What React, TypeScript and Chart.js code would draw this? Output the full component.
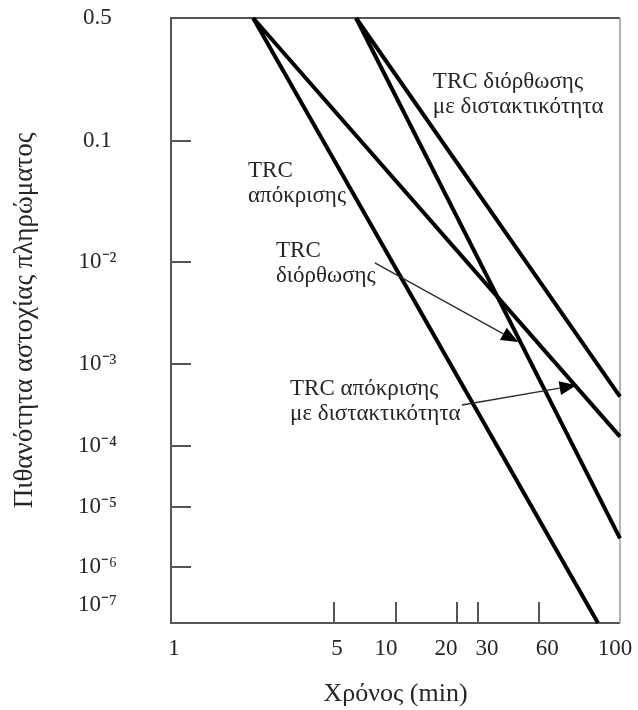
import React, { useEffect, useRef } from 'react';
import { Chart, Scale, registerables } from 'chart.js';

// ---- tick labels ----
const X_TICK_VALUES = [1, 5, 10, 20, 30, 60, 100];
const X_TICK_LABELS = ['1', '5', '10', '20', '30', '60', '100'];
const Y_TICK_VALUES = [0.5, 0.1, 1e-2, 1e-3, 1e-4, 1e-5, 1e-6, 1e-7];
const Y_TICK_LABELS = ['0.5', '0.1', '10⁻²', '10⁻³', '10⁻⁴', '10⁻⁵', '10⁻⁶', '10⁻⁷'];
const X_MARK_VALUES = [5, 10, 20, 30, 60];
const Y_MARK_VALUES = [0.1, 1e-2, 1e-3, 1e-4, 1e-5, 1e-6];

// ---- series: time (min) and failure probability ----
const RESPONSE_TIME = [2.25, 87];
const RESPONSE_PROB = [0.5, 3.4e-8];
const RESPONSE_HES_TIME = [2.25, 100];
const RESPONSE_HES_PROB = [0.5, 1.3e-4];
const CORRECTION_TIME = [6.4, 100];
const CORRECTION_PROB = [0.5, 3.0e-6];
const CORRECTION_HES_TIME = [6.4, 100];
const CORRECTION_HES_PROB = [0.5, 4.0e-4];

// ---- annotations ----
const NOTE_LINES = [
  ['TRC διόρθωσης', 'με διστακτικότητα'],
  ['TRC', 'απόκρισης'],
  ['TRC', 'διόρθωσης'],
  ['TRC απόκρισης', 'με διστακτικότητα'],
];
const NOTE_TIME = [15.2, 2.14, 2.82, 3.24];
const NOTE_PROB = [0.2, 0.05, 0.011, 4.2e-4];
const ARROW_FROM_TIME = [7.9, 22];
const ARROW_FROM_PROB = [9.8e-3, 3.16e-4];
const ARROW_TO_TIME = [47.3, 76];
const ARROW_TO_PROB = [1.64e-3, 5.5e-4];

// ---- axis calibration (the printed axes are not uniform) ----
const X_AXIS_VALUES = [1, 5, 10, 20, 30, 60, 100];
const X_AXIS_FRACTIONS = [0, 0.363, 0.501, 0.637, 0.684, 0.82, 1];
const Y_AXIS_VALUES = [3.4e-8, 1e-7, 1e-6, 1e-5, 1e-4, 1e-3, 1e-2, 0.1, 0.5];
const Y_AXIS_FRACTIONS = [0, 0.0298, 0.0926, 0.1917, 0.2926, 0.4281, 0.5967, 0.7967, 1];
const X_LABEL_SHIFT = [3, 3, -10, -11, 9, 8, -5];

const FONT = '"Liberation Serif", "Times New Roman", serif';
const TEXT_COLOR = '#262626';
const FRAME_COLOR = '#555555';

function interp(xs: number[], ys: number[], x: number) {
  let i = 0;
  while (i < xs.length - 2 && x > xs[i + 1]) i++;
  const t = (x - xs[i]) / (xs[i + 1] - xs[i]);
  return ys[i] + t * (ys[i + 1] - ys[i]);
}

function makeAnchoredScale(
  id: string,
  values: number[],
  fracs: number[],
  tickValues: number[],
  shifts: number[] | null
) {
  const logs = values.map((v) => Math.log10(v));
  class AnchoredScale extends Scale {
    static id = id;
    static defaults = {};
    determineDataLimits() {
      (this as any).min = values[0];
      (this as any).max = values[values.length - 1];
    }
    buildTicks() {
      return tickValues.map((v) => ({ value: v }));
    }
    getLabelForValue(v: number) {
      return String(v);
    }
    getPixelForValue(v: number) {
      return (this as any).getPixelForDecimal(interp(logs, fracs, Math.log10(v)));
    }
    getValueForPixel(p: number) {
      return Math.pow(10, interp(fracs, logs, (this as any).getDecimalForPixel(p)));
    }
    getPixelForTick(i: number) {
      const ticks = (this as any).ticks;
      if (i < 0 || i >= ticks.length) return null;
      return this.getPixelForValue(ticks[i].value) + (shifts ? shifts[i] || 0 : 0);
    }
  }
  return AnchoredScale;
}

const XScale = makeAnchoredScale('anchoredX', X_AXIS_VALUES, X_AXIS_FRACTIONS, X_TICK_VALUES, X_LABEL_SHIFT);
const YScale = makeAnchoredScale('anchoredY', Y_AXIS_VALUES, Y_AXIS_FRACTIONS, Y_TICK_VALUES, null);

Chart.register(...registerables, XScale as any, YScale as any);

function pts(ts: number[], ps: number[]) {
  return ts.map((t, i) => ({ x: t, y: ps[i] }));
}

const decorPlugin = {
  id: 'decor',
  beforeDatasetsDraw(chart: any) {
    const { ctx, chartArea: a, scales } = chart;
    const x = scales.x;
    const y = scales.y;
    ctx.save();
    ctx.lineWidth = 2;
    ctx.strokeStyle = FRAME_COLOR;
    ctx.beginPath();
    ctx.moveTo(a.right, a.top);
    ctx.lineTo(a.left, a.top);
    ctx.lineTo(a.left, a.bottom);
    ctx.lineTo(a.right, a.bottom);
    ctx.stroke();
    ctx.strokeStyle = '#9a9a9a';
    ctx.lineWidth = 1.5;
    ctx.beginPath();
    ctx.moveTo(a.right, a.top);
    ctx.lineTo(a.right, a.bottom);
    ctx.stroke();
    ctx.strokeStyle = FRAME_COLOR;
    ctx.lineWidth = 2;
    for (const v of X_MARK_VALUES) {
      const px = Math.round(x.getPixelForValue(v));
      ctx.beginPath();
      ctx.moveTo(px, a.bottom);
      ctx.lineTo(px, a.bottom - 21);
      ctx.stroke();
    }
    for (const v of Y_MARK_VALUES) {
      const py = Math.round(y.getPixelForValue(v));
      ctx.beginPath();
      ctx.moveTo(a.left, py);
      ctx.lineTo(a.left + 20, py);
      ctx.stroke();
    }
    ctx.restore();
  },
  afterDatasetsDraw(chart: any) {
    const { ctx, scales } = chart;
    const x = scales.x;
    const y = scales.y;
    ctx.save();
    // arrows
    for (let i = 0; i < ARROW_FROM_TIME.length; i++) {
      const x0 = x.getPixelForValue(ARROW_FROM_TIME[i]);
      const y0 = y.getPixelForValue(ARROW_FROM_PROB[i]);
      const x1 = x.getPixelForValue(ARROW_TO_TIME[i]);
      const y1 = y.getPixelForValue(ARROW_TO_PROB[i]);
      const ang = Math.atan2(y1 - y0, x1 - x0);
      const head = 17;
      const half = 7;
      const bx = x1 - head * Math.cos(ang);
      const by = y1 - head * Math.sin(ang);
      ctx.strokeStyle = '#2a2a2a';
      ctx.lineWidth = 1.3;
      ctx.beginPath();
      ctx.moveTo(x0, y0);
      ctx.lineTo(bx, by);
      ctx.stroke();
      ctx.fillStyle = '#000';
      ctx.beginPath();
      ctx.moveTo(x1, y1);
      ctx.lineTo(bx + half * Math.sin(ang), by - half * Math.cos(ang));
      ctx.lineTo(bx - half * Math.sin(ang), by + half * Math.cos(ang));
      ctx.closePath();
      ctx.fill();
    }
    // notes
    ctx.font = '23px ' + FONT;
    ctx.fillStyle = TEXT_COLOR;
    ctx.textAlign = 'left';
    ctx.textBaseline = 'alphabetic';
    for (let i = 0; i < NOTE_LINES.length; i++) {
      const px = x.getPixelForValue(NOTE_TIME[i]);
      const py = y.getPixelForValue(NOTE_PROB[i]);
      NOTE_LINES[i].forEach((line, j) => ctx.fillText(line, px, py + j * 25));
    }
    ctx.restore();
  },
};

function lineDs(label: string, ts: number[], ps: number[]) {
  return {
    label,
    data: pts(ts, ps),
    borderColor: '#000',
    borderWidth: 4,
    pointRadius: 0,
    fill: false,
    tension: 0,
  };
}

export default function App() {
  const ref = useRef<HTMLCanvasElement | null>(null);
  useEffect(() => {
    if (!ref.current) return;
    const chart = new Chart(ref.current, {
      type: 'line',
      data: {
        datasets: [
          lineDs('TRC απόκρισης', RESPONSE_TIME, RESPONSE_PROB),
          lineDs('TRC απόκρισης με διστακτικότητα', RESPONSE_HES_TIME, RESPONSE_HES_PROB),
          lineDs('TRC διόρθωσης', CORRECTION_TIME, CORRECTION_PROB),
          lineDs('TRC διόρθωσης με διστακτικότητα', CORRECTION_HES_TIME, CORRECTION_HES_PROB),
        ],
      },
      options: {
        responsive: false,
        animation: false,
        devicePixelRatio: 1,
        layout: { padding: { top: 18, right: 18, left: 0, bottom: 0 } },
        plugins: { legend: { display: false }, tooltip: { enabled: false } },
        scales: {
          x: {
            type: 'anchoredX',
            position: 'bottom',
            grid: { display: false },
            border: { display: false },
            ticks: {
              autoSkip: false,
              maxRotation: 0,
              minRotation: 0,
              padding: 4,
              color: TEXT_COLOR,
              font: { family: FONT, size: 23 },
              callback: (_v: any, i: number) => X_TICK_LABELS[i],
            },
            title: {
              display: true,
              text: 'Χρόνος (min)',
              color: TEXT_COLOR,
              font: { family: FONT, size: 26 },
              padding: { top: 0, bottom: 0 },
            },
            afterFit: (s: any) => {
              s.height = 87;
              s.paddingLeft = 0;
              s.paddingRight = 0;
              s.paddingTop = 0;
              s.paddingBottom = 0;
            },
          } as any,
          y: {
            type: 'anchoredY',
            position: 'left',
            grid: { display: false },
            border: { display: false },
            ticks: {
              autoSkip: false,
              crossAlign: 'center',
              padding: 46,
              color: TEXT_COLOR,
              font: { family: FONT, size: 23 },
              callback: (_v: any, i: number) => Y_TICK_LABELS[i],
            },
            title: {
              display: true,
              text: 'Πιθανότητα αστοχίας πληρώματος',
              color: TEXT_COLOR,
              font: { family: FONT, size: 27 },
              padding: { top: 9, bottom: 0 },
            },
            afterFit: (s: any) => {
              s.width = 171;
              s.paddingLeft = 0;
              s.paddingRight = 0;
              s.paddingTop = 0;
              s.paddingBottom = 0;
            },
          } as any,
        },
      } as any,
      plugins: [decorPlugin],
    });
    return () => chart.destroy();
  }, []);
  return (
    <div style={{ position: 'fixed', left: 0, top: 0, width: 638, height: 710, background: '#fff' }}>
      <canvas ref={ref} width={638} height={710} style={{ display: 'block' }} />
    </div>
  );
}
